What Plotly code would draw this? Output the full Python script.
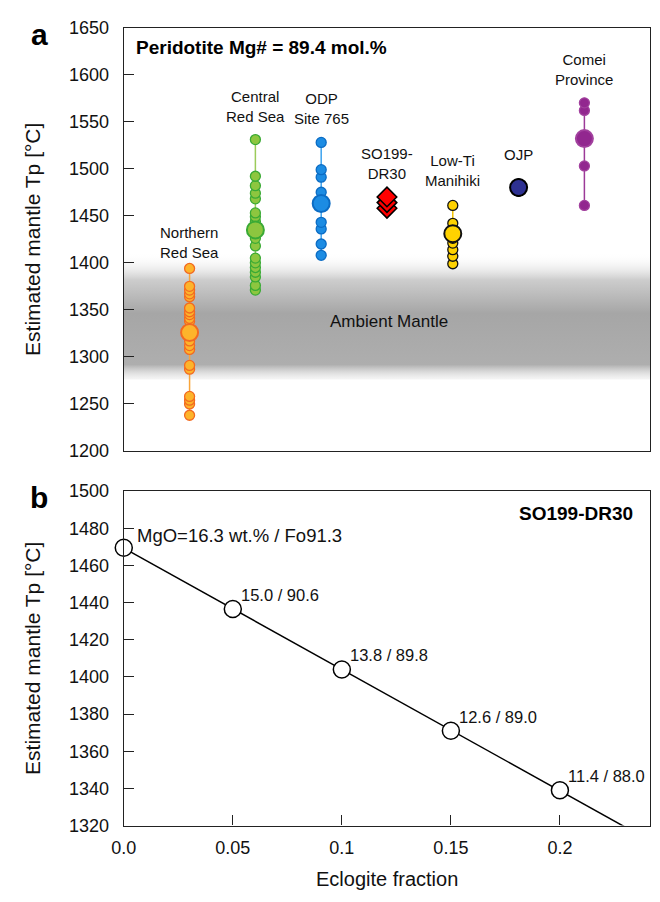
import plotly.graph_objects as go
import numpy as np

# ---------------- data : panel a ----------------
groups = ["Northern<br>Red Sea", "Central<br>Red Sea", "ODP<br>Site 765", "SO199-<br>DR30",
          "Low-Ti<br>Manihiki", "OJP", "Comei<br>Province"]
group_pos = [1, 2, 3, 4, 5, 6, 7]

northern_tp = [1238, 1250, 1254, 1258, 1287, 1291, 1308, 1312, 1317, 1338, 1341, 1345, 1348,
               1352, 1364, 1367, 1371, 1375, 1394]
northern_mean = 1326
central_tp = [1371, 1376, 1385, 1390, 1395, 1400, 1405, 1418, 1426, 1444, 1449, 1453, 1468,
              1474, 1482, 1492, 1531]
central_mean = 1435
odp_tp = [1408, 1420, 1436, 1443, 1475, 1491, 1499, 1528]
odp_mean = 1463
so199_tp = [1458, 1464, 1470]
lowti_tp = [1399, 1407, 1414, 1421, 1426, 1437, 1442, 1461]
lowti_mean = 1431
ojp_tp = [1476, 1484]
ojp_mean = 1480
comei_tp = [1461, 1503, 1562, 1570]
comei_mean = 1532

ambient_low, ambient_high = 1276, 1416
ambient_label = "Ambient Mantle"

# ---------------- data : panel b ----------------
eclogite = [0.0, 0.05, 0.1, 0.15, 0.2]
tp_b = [1469.5, 1436.5, 1404, 1371, 1339]
labels_b = ["MgO=16.3 wt.% / Fo91.3", "15.0 / 90.6", "13.8 / 89.8", "12.6 / 89.0", "11.4 / 88.0"]
xtick_vals = [0.0, 0.05, 0.1, 0.15, 0.2]
xtick_text = ["0.0", "0.05", "0.1", "0.15", "0.2"]

# ---------------- figure ----------------
W, H = 660, 902
FONT = "Liberation Sans, Arial, sans-serif"
fig = go.Figure()


def px_x(p):
    return p / W


def px_y(p):
    return 1 - p / H


# ambient mantle band with vertical gradient
fig.add_trace(go.Scatter(
    x=[0, 8, 8, 0, 0], y=[ambient_low, ambient_low, ambient_high, ambient_high, ambient_low],
    mode="lines", line=dict(width=0), fill="toself",
    fillgradient=dict(type="vertical", start=ambient_low, stop=ambient_high,
                      colorscale=[[0, "rgba(255,255,255,0)"], [0.17, "rgb(174,174,174)"],
                                  [0.55, "rgb(166,166,166)"], [0.8, "rgb(205,205,205)"],
                                  [1, "rgba(255,255,255,0)"]]),
    hoverinfo="skip", showlegend=False, xaxis="x", yaxis="y"))

styles = [
    dict(vals=northern_tp, mean=northern_mean, fill="#FDB42B", edge="#F26A21", line="#F9A53A", sym="circle"),
    dict(vals=central_tp, mean=central_mean, fill="#8DC63F", edge="#3AAA35", line="#9CCB5A", sym="circle"),
    dict(vals=odp_tp, mean=odp_mean, fill="#1C8CE3", edge="#0B6CC4", line="#3BA2EE", sym="circle"),
    dict(vals=so199_tp, mean=None, fill="#FF0000", edge="#000000", line=None, sym="diamond"),
    dict(vals=lowti_tp, mean=lowti_mean, fill="#FFD200", edge="#111111", line="#F2C200", sym="circle"),
    dict(vals=ojp_tp, mean=ojp_mean, fill="#2E3192", edge="#000000", line=None, sym="circle"),
    dict(vals=comei_tp, mean=comei_mean, fill="#92278F", edge="#A2419E", line="#9C3A98", sym="circle"),
]

for pos, st in zip(group_pos, styles):
    xs = [pos] * len(st["vals"])
    if st["sym"] == "diamond":
        fig.add_trace(go.Scatter(
            x=xs, y=st["vals"], mode="markers",
            marker=dict(symbol="diamond", size=15, color=st["fill"], line=dict(color=st["edge"], width=1.6)),
            showlegend=False, hoverinfo="skip", xaxis="x", yaxis="y"))
        continue
    mode = "lines+markers" if st["line"] else "markers"
    fig.add_trace(go.Scatter(
        x=xs, y=st["vals"], mode=mode,
        line=dict(color=st["line"] or st["fill"], width=1.5),
        marker=dict(size=10, color=st["fill"], line=dict(color=st["edge"], width=1.3)),
        showlegend=False, hoverinfo="skip", xaxis="x", yaxis="y"))
    fig.add_trace(go.Scatter(
        x=[pos], y=[st["mean"]], mode="markers",
        marker=dict(size=17, color=st["fill"], line=dict(color=st["edge"], width=2)),
        showlegend=False, hoverinfo="skip", xaxis="x", yaxis="y"))

# group labels (pixel centres -> data)
label_px = [238, 99, 101, 157, 164, 148, 61]
annotations = []
for pos, name, lp in zip(group_pos, groups, label_px):
    yv = 1650 - (lp - 18) * 450 / 433
    annotations.append(dict(x=pos, y=yv, xref="x", yref="y", text=name, showarrow=False,
                            font=dict(family=FONT, size=15, color="#111"), xanchor="center",
                            yanchor="middle"))
annotations.append(dict(x=4.03, y=1338, xref="x", yref="y", text=ambient_label, showarrow=False,
                        xanchor="center", yanchor="middle",
                        font=dict(family=FONT, size=17, color="#111")))
annotations.append(dict(x=px_x(123), y=px_y(38), xref="paper", yref="paper",
                        text="<b>Peridotite Mg# = 89.4 mol.%</b>", showarrow=False,
                        xanchor="left", yanchor="middle", font=dict(family=FONT, size=19, color="#000")))

# panel b line (fit through the model points, extended past the axis range)
coef = np.polyfit(eclogite, tp_b, 1)
xl = np.array([eclogite[0], 0.26])
fig.add_trace(go.Scatter(x=xl, y=np.polyval(coef, xl), mode="lines", line=dict(color="black", width=1.5),
                         showlegend=False, hoverinfo="skip", xaxis="x2", yaxis="y2"))
fig.add_trace(go.Scatter(x=eclogite, y=tp_b, mode="markers",
                         marker=dict(size=17, color="white", line=dict(color="black", width=1.5)),
                         cliponaxis=False, showlegend=False, hoverinfo="skip", xaxis="x2", yaxis="y2"))
for i, (xv, yv, lab) in enumerate(zip(eclogite, tp_b, labels_b)):
    annotations.append(dict(x=xv, y=yv, xref="x2", yref="y2", text=lab, showarrow=False,
                            xanchor="left", yanchor="middle", xshift=11 if i == 0 else 6,
                            yshift=12 if i == 0 else 14,
                            font=dict(family=FONT, size=18.5 if i == 0 else 16.5, color="#111")))
annotations.append(dict(x=px_x(634), y=px_y(515), xref="paper", yref="paper", text="<b>SO199-DR30</b>",
                        showarrow=False, xanchor="right", yanchor="middle",
                        font=dict(family=FONT, size=19, color="#000")))

# axis titles and panel letters
annotations += [
    dict(x=px_x(20), y=px_y(234.5), xref="paper", yref="paper", text="Estimated mantle Tp [°C]",
         textangle=-90, showarrow=False, xanchor="center", yanchor="middle",
         font=dict(family=FONT, size=21, color="#111")),
    dict(x=px_x(20), y=px_y(663), xref="paper", yref="paper", text="Estimated mantle Tp [°C]",
         textangle=-90, showarrow=False, xanchor="center", yanchor="middle",
         font=dict(family=FONT, size=21, color="#111")),
    dict(x=px_x(382), y=px_y(889), xref="paper", yref="paper", text="Eclogite fraction",
         showarrow=False, xanchor="center", yanchor="middle",
         font=dict(family=FONT, size=20, color="#111")),
    dict(x=px_x(27), y=px_y(25), xref="paper", yref="paper", text="<b>a</b>",
         showarrow=False, xanchor="center", yanchor="middle",
         font=dict(family=FONT, size=30, color="#000")),
    dict(x=px_x(27), y=px_y(499), xref="paper", yref="paper", text="<b>b</b>",
         showarrow=False, xanchor="center", yanchor="middle",
         font=dict(family=FONT, size=30, color="#000")),
]

axis_common = dict(showline=True, linecolor="#222", linewidth=1.3, mirror=True, showgrid=False,
                   zeroline=False, tickfont=dict(family=FONT, size=18, color="#111"))

fig.update_layout(
    width=W, height=H, margin=dict(l=0, r=0, t=0, b=0),
    paper_bgcolor="white", plot_bgcolor="white", showlegend=False,
    xaxis=dict(domain=[px_x(113), px_x(650)], range=[0, 8], showticklabels=False, ticks="",
               anchor="y", **axis_common),
    yaxis=dict(domain=[px_y(451), px_y(18)], range=[1200, 1650], tickvals=list(range(1200, 1651, 50)),
               ticks="inside", ticklen=10, tickcolor="#222", tickwidth=1.3, ticklabelstandoff=10,
               anchor="x", **axis_common),
    xaxis2=dict(domain=[px_x(113), px_x(650)], range=[0, 0.2414], tickvals=xtick_vals, ticktext=xtick_text,
                ticks="inside", ticklen=10, tickcolor="#222", tickwidth=1.3, ticklabelstandoff=6,
                anchor="y2", **axis_common),
    yaxis2=dict(domain=[px_y(834), px_y(492)], range=[1320, 1500], tickvals=list(range(1320, 1501, 20)),
                ticks="inside", ticklen=10, tickcolor="#222", tickwidth=1.3, ticklabelstandoff=10,
                anchor="x2", **axis_common),
    annotations=annotations,
)

fig.write_html("out.html")
